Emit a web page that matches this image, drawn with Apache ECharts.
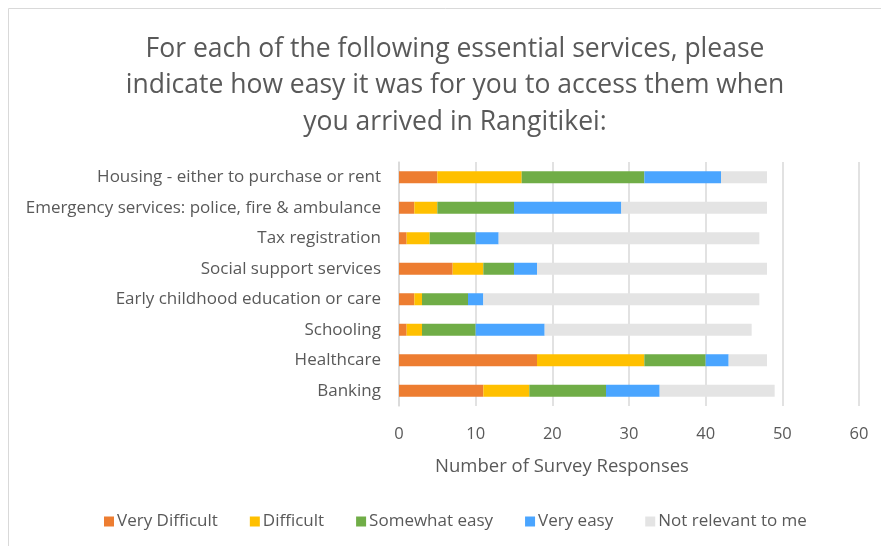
<!DOCTYPE html>
<html>
<head>
<meta charset="utf-8">
<script src="https://cdn.jsdelivr.net/npm/echarts@6/dist/echarts.min.js"></script>
<style>html,body{margin:0;padding:0;background:#fff}#c{width:881px;height:546px}</style>
</head>
<body>
<div id="c"></div>
<script>
const categories = [
  "Housing - either to purchase or rent",
  "Emergency services: police, fire & ambulance",
  "Tax registration",
  "Social support services",
  "Early childhood education or care",
  "Schooling",
  "Healthcare",
  "Banking"
];
const veryDifficult = [5, 2, 1, 7, 2, 1, 18, 11];
const difficult     = [11, 3, 3, 4, 1, 2, 14, 6];
const somewhatEasy  = [16, 10, 6, 4, 6, 7, 8, 10];
const veryEasy      = [10, 14, 3, 3, 2, 9, 3, 7];
const notRelevant   = [6, 19, 34, 30, 36, 27, 5, 15];
const xTicks = [0, 10, 20, 30, 40, 50, 60];

const font = "Open Sans";
const txt = "#595959";
const mk = (name, data, color) => ({
  name, type: "bar", stack: "t", data, barWidth: 12,
  itemStyle: { color }, emphasis: { disabled: true }
});
const chart = echarts.init(document.getElementById("c"));
chart.setOption({
  animation: false,
  textStyle: { fontFamily: font },
  graphic: [{
    type: "rect", shape: { x: 8.5, y: 8.5, width: 900, height: 600 },
    style: { fill: "none", stroke: "#d9d9d9", lineWidth: 1 }, silent: true
  }],
  title: {
    text: "For each of the following essential services, please\nindicate how easy it was for you to access them when\nyou arrived in Rangitikei:",
    left: 450, textAlign: "center", top: 26,
    textStyle: { fontFamily: font, fontSize: 26.5, fontWeight: "normal", color: txt, lineHeight: 36.5 }
  },
  legend: {
    bottom: 11, left: 99, itemWidth: 10, itemHeight: 10, itemGap: 32,
    icon: "rect",
    textStyle: { fontFamily: font, fontSize: 17, color: txt, padding: [0, 0, 0, -2] },
    data: ["Very Difficult", "Difficult", "Somewhat easy", "Very easy", "Not relevant to me"]
  },
  grid: { left: 399, right: 22, top: 162, bottom: 140, containLabel: false },
  xAxis: {
    type: "value", min: xTicks[0], max: xTicks[xTicks.length - 1], interval: 10,
    name: "Number of Survey Responses", nameLocation: "middle", nameGap: 51,
    nameTextStyle: { fontFamily: font, fontSize: 18.5, color: txt, padding: [0, 134, 0, 0] },
    axisLabel: { fontFamily: font, fontSize: 16.5, color: txt, margin: 20 },
    axisLine: { show: false }, axisTick: { show: false },
    splitLine: { lineStyle: { color: "#d9d9d9", width: 1.5 } }
  },
  yAxis: {
    type: "category", data: categories, inverse: true,
    axisLabel: { fontFamily: font, fontSize: 17, color: txt, margin: 18 },
    axisLine: { lineStyle: { color: "#d9d9d9", width: 1.5 } }, axisTick: { show: false }
  },
  series: [
    mk("Very Difficult", veryDifficult, "#ED7D31"),
    mk("Difficult", difficult, "#FFC000"),
    mk("Somewhat easy", somewhatEasy, "#70AD47"),
    mk("Very easy", veryEasy, "#4AA5FF"),
    mk("Not relevant to me", notRelevant, "#E4E4E4")
  ]
});
</script>
</body>
</html>
